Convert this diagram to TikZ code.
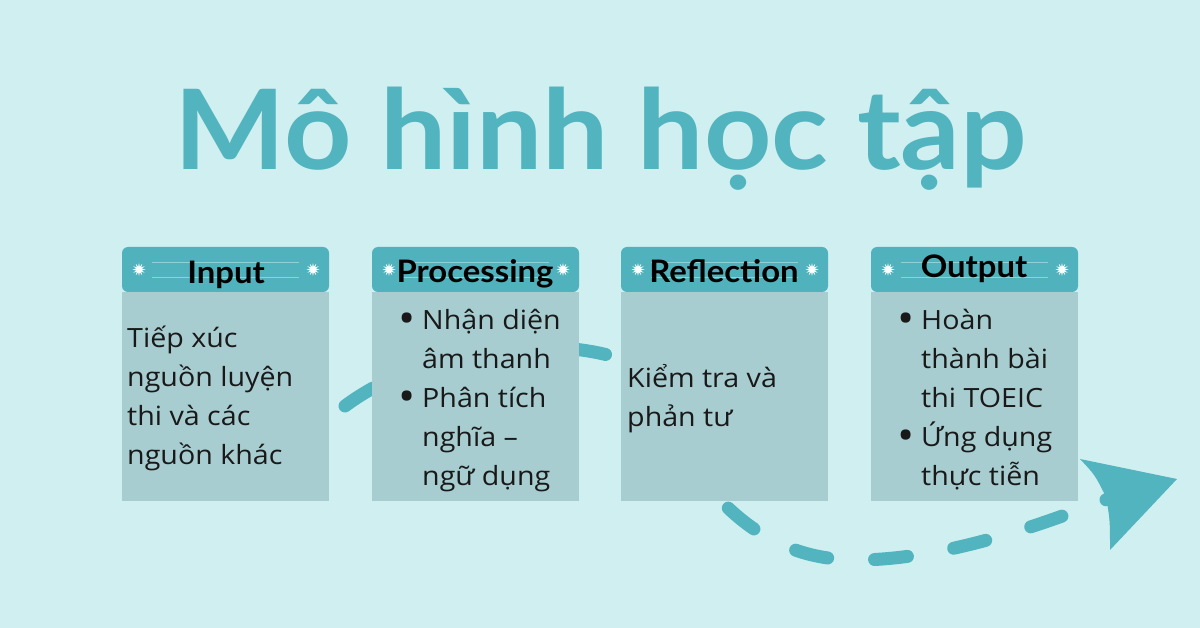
\documentclass[tikz,border=0pt]{standalone}
\usepackage{fontspec}
\setmainfont{Open Sans}[FakeStretch=1.08]
\newfontfamily\titlefont{Lato}[FakeStretch=1.06]
\usetikzlibrary{shapes.geometric}
\definecolor{bg}{HTML}{D0EFF1}
\definecolor{teal}{HTML}{52B4BE}
\definecolor{hdr}{HTML}{50B2BC}
\definecolor{bodyc}{HTML}{A8CDD0}
\definecolor{hline}{HTML}{8ED2D8}
\tikzset{
  hdrbox/.style={fill=hdr, rounded corners=6pt},
  bodybox/.style={fill=bodyc},
  sparkle/.style={star, star points=12, star point ratio=2.2, fill=white, inner sep=0pt, minimum size=13pt},
  hdrtext/.style={font=\titlefont\bfseries\fontsize{31}{32}\selectfont, text=black, anchor=base, inner sep=0pt},
  bodytext/.style={anchor=base west, inner sep=0pt, text=black!90},
  flow/.style={draw=teal, line width=13pt, line cap=round, dash pattern=on 33pt off 47pt},
}
\newcommand{\bodypar}[1]{\parbox[t]{220pt}{\fontsize{26.5}{39}\selectfont\raggedright #1}}
\newcommand{\bul}{\makebox[24pt][l]{\hspace*{0.5pt}\raisebox{-3.5pt}{\scalebox{1.6}{\textbullet}}}}
\newcommand{\ind}{\hspace*{24pt}}
\begin{document}
\begin{tikzpicture}[x=1pt,y=-1pt]
\fill[bg] (0,0) rectangle (1200,628);
\useasboundingbox (0,0) rectangle (1200,628);
% title
\node[font=\titlefont\bfseries\fontsize{111}{111}\selectfont, text=teal, anchor=base, inner sep=0pt] (title) at (601,170) {Mô hình học tập};
% flow curve (behind boxes)
\coordinate (c0) at (345,406);
\coordinate (c1) at (615,357);
\coordinate (c2) at (723,503);
\coordinate (c3) at (862,560);
\coordinate (c4) at (1108,499);
\draw[flow] (c0) .. controls (420,350) and (540,335) .. (c1)
  .. controls (690,370) and (690,470) .. (c2)
  .. controls (765,545) and (810,561) .. (c3)
  .. controls (950,558) and (1040,525) .. (c4);
% arrow head
\coordinate (tip) at (1177,479);
\coordinate (ub) at (1080,459);
\coordinate (nb) at (1106,497);
\coordinate (lb) at (1110,550);
\fill[teal] (tip) -- (ub) .. controls (1095,475) .. (nb) .. controls (1110,520) .. (lb) -- cycle;
% boxes
\foreach \n/\x in {in/122, pr/372, re/621, ou/871}{
  \fill[bodybox] (\x,292) rectangle ++(207,209);
  \fill[hdrbox] (\x,247) rectangle ++(207,45);
  \draw[hline, line width=0.8pt] (\x+30,262) -- ++(147,0) (\x+30,277) -- ++(147,0);
  \node[sparkle] (\n-sl) at (\x+17,269.5) {};
  \node[sparkle] (\n-sr) at (\x+191,269.5) {};
}
% header labels
\node[hdrtext] (h-in) at (226,284) {Input};
\node[hdrtext] (h-pr) at (475,283) {Processing};
\node[hdrtext] (h-re) at (724,283) {Reflection};
\node[hdrtext] (h-ou) at (974,278) {Output};
% body texts
\node[bodytext] (t-in) at (127,348) {\bodypar{Tiếp xúc\\nguồn luyện\\thi và các\\nguồn khác}};
\node[bodytext] (t-pr) at (398,330) {\bodypar{\bul Nhận diện\\\ind âm thanh\\\bul Phân tích\\\ind nghĩa –\\\ind ngữ dụng}};
\node[bodytext] (t-re) at (627,388) {\bodypar{Kiểm tra và\\phản tư}};
\node[bodytext] (t-ou) at (897,330) {\bodypar{\bul Hoàn\\\ind thành bài\\\ind thi TOEIC\\\bul Ứng dụng\\\ind thực tiễn}};
\end{tikzpicture}
\end{document}
